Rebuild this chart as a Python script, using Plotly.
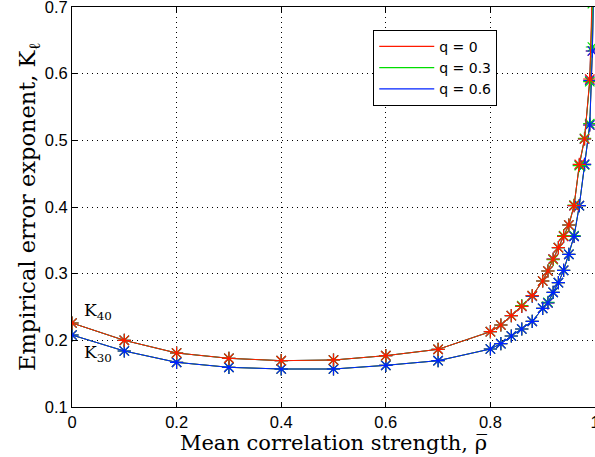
import plotly.graph_objects as go

# Mean correlation strength (x) sample points
rho = [0, 0.1, 0.2, 0.3, 0.4, 0.5, 0.6, 0.7, 0.8, 0.82, 0.84, 0.86, 0.88,
       0.9, 0.91, 0.92, 0.93, 0.94, 0.95, 0.96, 0.97, 0.98, 0.99, 0.995, 0.999]

# Empirical error exponent K_40 for each q
k40_q0 = [0.226, 0.200, 0.181, 0.173, 0.1695, 0.1705, 0.177, 0.1865, 0.213, 0.223,
          0.237, 0.251, 0.267, 0.289, 0.304, 0.322, 0.339, 0.356, 0.373, 0.402,
          0.464, 0.502, 0.592, 0.720, 0.850]
k40_q3 = [0.226, 0.200, 0.181, 0.173, 0.1695, 0.1705, 0.177, 0.1865, 0.213, 0.223,
          0.237, 0.252, 0.267, 0.289, 0.304, 0.321, 0.339, 0.357, 0.373, 0.403,
          0.462, 0.503, 0.588, 0.705, 0.840]
k40_q6 = [0.226, 0.200, 0.181, 0.173, 0.1695, 0.1705, 0.177, 0.1865, 0.213, 0.223,
          0.237, 0.251, 0.266, 0.289, 0.304, 0.322, 0.339, 0.356, 0.373, 0.402,
          0.463, 0.502, 0.590, 0.712, 0.845]

# Empirical error exponent K_30 for each q
k30_q0 = [0.208, 0.184, 0.167, 0.1595, 0.157, 0.157, 0.1625, 0.1695, 0.187, 0.195,
          0.2065, 0.217, 0.2285, 0.248, 0.256, 0.272, 0.2865, 0.305, 0.329, 0.356,
          0.402, 0.464, 0.523, 0.634, 0.800]
k30_q3 = [0.208, 0.184, 0.167, 0.1595, 0.157, 0.157, 0.1625, 0.1695, 0.187, 0.195,
          0.2065, 0.217, 0.2285, 0.248, 0.257, 0.272, 0.2865, 0.305, 0.329, 0.357,
          0.402, 0.463, 0.525, 0.640, 0.800]
k30_q6 = [0.208, 0.184, 0.167, 0.1595, 0.157, 0.157, 0.1625, 0.1695, 0.187, 0.195,
          0.2065, 0.217, 0.2285, 0.248, 0.256, 0.272, 0.2865, 0.305, 0.329, 0.356,
          0.402, 0.464, 0.523, 0.634, 0.800]

q_labels = ["q = 0", "q = 0.3", "q = 0.6"]
colors = ["#ff1a00", "#00dd00", "#0022ff"]
x_ticks = [0, 0.2, 0.4, 0.6, 0.8, 1]
x_tick_text = ["0", "0.2", "0.4", "0.6", "0.8", "1"]
y_ticks = [0.1, 0.2, 0.3, 0.4, 0.5, 0.6, 0.7]
y_tick_text = ["0.1", "0.2", "0.3", "0.4", "0.5", "0.6", "0.7"]

fig = go.Figure()


def add_curve(y, idx):
    fig.add_trace(go.Scatter(
        x=rho, y=y, mode="lines+markers", name=q_labels[idx],
        legendgroup=q_labels[idx], showlegend=False,
        line=dict(color=colors[idx], width=1),
        marker=dict(symbol="asterisk-open", size=11,
                    line=dict(color=colors[idx], width=1.2)),
    ))


# K_30 group: blue drawn last
add_curve(k30_q0, 0)
add_curve(k30_q3, 1)
add_curve(k30_q6, 2)
# K_40 group: red drawn last
add_curve(k40_q6, 2)
add_curve(k40_q3, 1)
add_curve(k40_q0, 0)

# Legend entries show the line style only
for i, lab in enumerate(q_labels):
    fig.add_trace(go.Scatter(
        x=[None], y=[None], mode="lines", name=lab, legendgroup=lab,
        legendrank=i + 1, line=dict(color=colors[i], width=1.2),
    ))

serif = "DejaVu Serif, Liberation Serif, serif"
sans = "Liberation Sans, Arial, sans-serif"

fig.add_annotation(x=0.02, y=0.243, xref="x", yref="y", text="K<sub>40</sub>",
                   showarrow=False, xanchor="left", yanchor="middle",
                   font=dict(family=serif, size=17, color="black"))
fig.add_annotation(x=0.02, y=0.180, xref="x", yref="y", text="K<sub>30</sub>",
                   showarrow=False, xanchor="left", yanchor="middle",
                   font=dict(family=serif, size=17, color="black"))

grid_dash = "1px,4px"

fig.update_layout(
    width=595, height=457,
    margin=dict(l=72, r=0, t=7, b=50),
    paper_bgcolor="white", plot_bgcolor="white",
    font=dict(family=sans, size=16, color="black"),
    legend=dict(x=0.576, y=0.943, xanchor="left", yanchor="top",
                bgcolor="white", bordercolor="black", borderwidth=1,
                font=dict(family="DejaVu Sans, sans-serif", size=14, color="black"),
                itemwidth=55, tracegroupgap=0),
    xaxis=dict(range=[0, 1], tickvals=x_ticks, ticktext=x_tick_text,
               showgrid=True, gridcolor="black", griddash=grid_dash, gridwidth=1,
               showline=True, linecolor="black", linewidth=1, mirror="ticks",
               ticks="inside", ticklen=5, tickcolor="black",
               zeroline=False, ticklabeloverflow="allow", automargin=False,
               tickfont=dict(family=sans, size=16.5),
               title=dict(text="Mean correlation strength, ρ\u0305",
                          font=dict(family=serif, size=21), standoff=0)),
    yaxis=dict(range=[0.1, 0.7], tickvals=y_ticks, ticktext=y_tick_text,
               showgrid=True, gridcolor="black", griddash=grid_dash, gridwidth=1,
               showline=True, linecolor="black", linewidth=1,
               ticks="inside", ticklen=5, tickcolor="black",
               zeroline=False, ticklabeloverflow="allow", automargin=False,
               tickfont=dict(family=sans, size=16.5),
               title=dict(text="Empirical error exponent, K<sub>ℓ</sub>",
                          font=dict(family=serif, size=22.5), standoff=2)),
)

fig.write_html("out.html")
